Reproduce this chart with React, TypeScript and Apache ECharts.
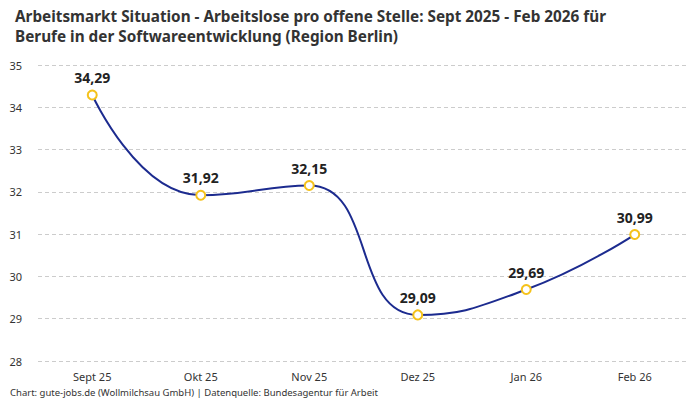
import React, { useEffect, useRef } from "react";
import * as echarts from "echarts";

const categories = ["Sept 25", "Okt 25", "Nov 25", "Dez 25", "Jan 26", "Feb 26"];
const values = [34.29, 31.92, 32.15, 29.09, 29.69, 30.99];
const yMin = 28;
const yMax = 35;
const titleText =
  "Arbeitsmarkt Situation - Arbeitslose pro offene Stelle: Sept 2025 - Feb 2026 für\nBerufe in der Softwareentwicklung (Region Berlin)";
const footerText = "Chart: gute-jobs.de (Wollmilchsau GmbH) | Datenquelle: Bundesagentur für Arbeit";

const FONT = "'Noto Sans', 'DejaVu Sans', sans-serif";

export default function App() {
  const ref = useRef<HTMLDivElement>(null);
  useEffect(() => {
    document.body.style.margin = "0";
    const chart = echarts.init(ref.current!, null, { renderer: "svg" });
    chart.setOption({
      animation: false,
      backgroundColor: "#ffffff",
      textStyle: { fontFamily: FONT },
      title: {
        text: titleText,
        left: 10,
        top: 1,
        textStyle: {
          fontFamily: FONT,
          fontSize: 15.3,
          fontWeight: "bold",
          color: "#333333",
          lineHeight: 20,
        },
      },
      graphic: [
        {
          type: "text",
          left: 10,
          top: 387,
          style: { text: footerText, fontSize: 9.5, fill: "#333333", fontFamily: FONT },
        },
      ],
      grid: { left: 38, right: 11, top: 65, bottom: 39 },
      xAxis: {
        type: "category",
        data: categories,
        boundaryGap: true,
        axisLine: { show: false },
        axisTick: { show: false },
        axisLabel: { color: "#333333", fontSize: 11, margin: 10, fontFamily: FONT },
      },
      yAxis: {
        type: "value",
        min: yMin,
        max: yMax,
        interval: 1,
        axisLine: { show: false },
        axisTick: { show: false },
        axisLabel: { color: "#333333", fontSize: 11, margin: 16, fontFamily: FONT },
        splitLine: { lineStyle: { color: "#cccccc", type: [4, 3], width: 1 } },
      },
      series: [
        {
          type: "line",
          data: values,
          smooth: 0.5,
          symbol: "circle",
          symbolSize: 9,
          lineStyle: { color: "#1c2b8f", width: 2 },
          itemStyle: { color: "#ffffff", borderColor: "#f5c21b", borderWidth: 2 },
          label: {
            show: true,
            position: "top",
            distance: 5,
            fontSize: 14,
            fontWeight: "bold",
            color: "#222222",
            fontFamily: FONT,
            formatter: (p: any) => p.value.toFixed(2).replace(".", ","),
          },
        },
      ],
    });
    return () => chart.dispose();
  }, []);
  return <div ref={ref} style={{ width: 700, height: 400 }} />;
}
